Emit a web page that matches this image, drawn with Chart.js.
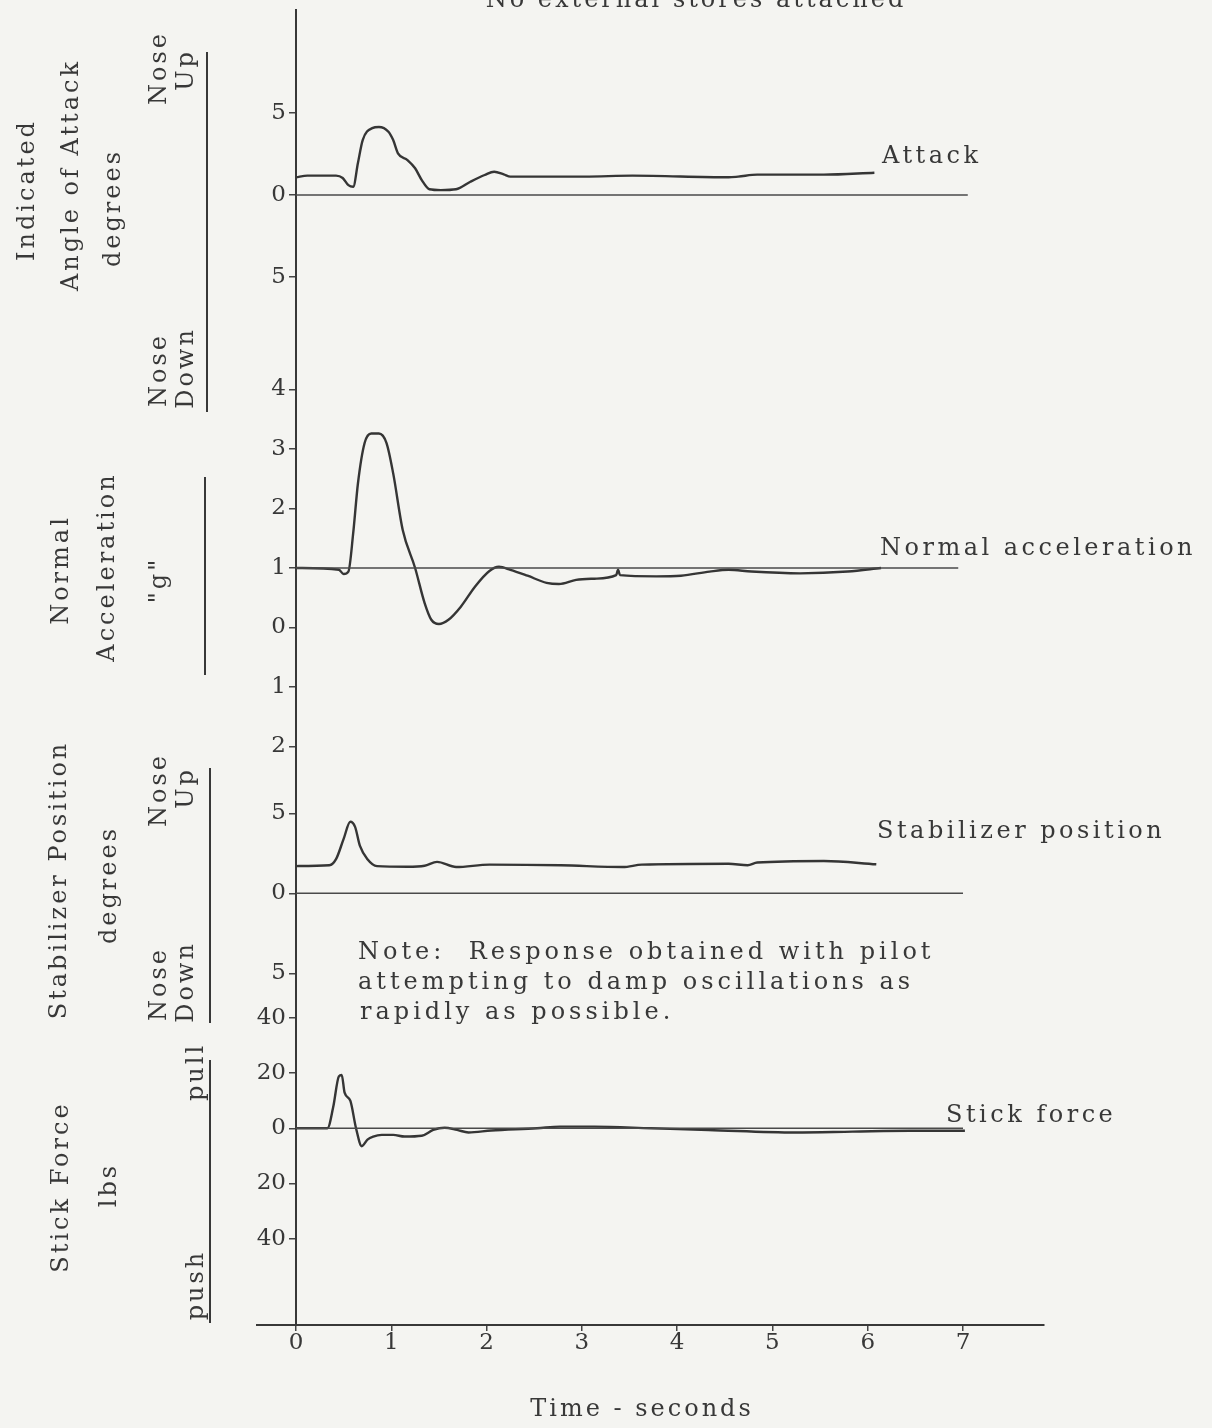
<!DOCTYPE html>
<html><head><meta charset="utf-8">
<script src="https://cdn.jsdelivr.net/npm/chart.js@4.4.1/dist/chart.umd.min.js"></script>
<style>html,body{margin:0;padding:0;background:#f4f4f1;} canvas{display:block}</style>
</head><body>
<canvas id="c" width="1212" height="1428"></canvas>
<script>
// ---- tick labels ----
const timeTicks = [0, 1, 2, 3, 4, 5, 6, 7];
const attackTicks = [5, 0, -5];
const accelTicks = [4, 3, 2, 1, 0, -1, -2];
const stabTicks = [5, 0, -5];
const stickTicks = [40, 20, 0, -20, -40];

// ---- series (time in seconds) ----
const attackTime = [0, 0.12, 0.42, 0.49, 0.55, 0.6, 0.65, 0.70, 0.80, 0.87, 0.97, 1.02, 1.07, 1.17, 1.25, 1.32, 1.40, 1.52, 1.68, 1.83, 1.98, 2.08, 2.18, 2.25, 3.03, 3.53, 4.54, 4.64, 4.84, 5.54, 6.07];
const attackDeg  = [1.08, 1.18, 1.18, 1.04, 0.6, 0.5, 1.95, 3.35, 4.08, 4.15, 3.86, 3.35, 2.54, 2.13, 1.63, 0.91, 0.35, 0.3, 0.35, 0.81, 1.22, 1.42, 1.26, 1.12, 1.12, 1.18, 1.08, 1.12, 1.24, 1.24, 1.36];

const accelTime = [0, 0.45, 0.50, 0.55, 0.60, 0.65, 0.72, 0.79, 0.87, 0.95, 1.02, 1.12, 1.25, 1.35, 1.42, 1.50, 1.60, 1.73, 1.88, 2.03, 2.13, 2.25, 2.43, 2.63, 2.76, 2.94, 3.13, 3.36, 3.38, 3.40, 3.78, 4.04, 4.34, 4.54, 4.78, 5.29, 5.79, 6.14];
const accelG    = [1.0, 0.97, 0.9, 0.94, 1.58, 2.42, 3.10, 3.26, 3.26, 3.10, 2.59, 1.64, 1.0, 0.41, 0.13, 0.06, 0.13, 0.35, 0.69, 0.95, 1.02, 0.97, 0.87, 0.75, 0.73, 0.80, 0.82, 0.88, 0.97, 0.88, 0.86, 0.87, 0.94, 0.97, 0.94, 0.91, 0.94, 1.0];

const stabTime = [0, 0.35, 0.42, 0.50, 0.57, 0.62, 0.67, 0.75, 0.85, 1.17, 1.35, 1.48, 1.68, 2.03, 2.78, 3.43, 3.63, 4.54, 4.74, 4.84, 5.54, 6.09];
const stabDeg  = [1.70, 1.75, 2.13, 3.40, 4.47, 4.15, 2.98, 2.13, 1.70, 1.66, 1.72, 1.96, 1.64, 1.79, 1.75, 1.64, 1.79, 1.85, 1.75, 1.92, 2.02, 1.81];

const stickTime = [0, 0.33, 0.39, 0.45, 0.48, 0.51, 0.57, 0.63, 0.69, 0.75, 0.81, 0.90, 1.02, 1.14, 1.32, 1.44, 1.56, 1.69, 1.81, 2.05, 2.53, 2.77, 3.13, 3.73, 4.33, 5.24, 5.84, 6.44, 7.02];
const stickLbs  = [0, 0, 7.6, 18.8, 19.3, 12.9, 10, 0, -6.5, -4.1, -3.0, -2.4, -2.4, -3.0, -2.7, -0.6, 0.2, -0.6, -1.5, -0.8, 0, 0.6, 0.6, 0, -0.6, -1.5, -1.2, -0.9, -0.9];

// reference (trim) lines
const attackRefTime = [0, 7.05]; const attackRefDeg = [0, 0];
const accelRefTime = [0, 6.95];  const accelRefG = [1, 1];
const stabRefTime = [0, 7.0];    const stabRefDeg = [0, 0];
const stickRefTime = [0, 7.0];   const stickRefLbs = [0, 0];

const INK = '#383838';
const FONT = '"DejaVu Serif", serif';
const pts = (t, v) => t.map((x, i) => ({x: x, y: v[i]}));

function trace(t, v, axis) {
  return {data: pts(t, v), yAxisID: axis, borderColor: '#353535', borderWidth: 2.4,
          pointRadius: 0, tension: 0.35, cubicInterpolationMode: 'monotone', fill: false};
}
function ref(t, v, axis) {
  return {data: pts(t, v), yAxisID: axis, borderColor: '#4a4a4a', borderWidth: 1.6,
          pointRadius: 0, tension: 0, fill: false};
}

function yScale(min, max, ticks, weight) {
  return {
    type: 'linear', position: 'left', stack: 'panels', stackWeight: weight, offset: false,
    min: min, max: max,
    afterBuildTicks: s => { s.ticks = ticks.map(v => ({value: v})); },
    afterFit: s => { s.width = 296; s.paddingTop = 0; s.paddingBottom = 0; },
    ticks: {autoSkip: false, color: INK, font: {family: FONT, size: 23}, padding: 3,
            callback: v => String(Math.abs(v))},
    grid: {drawOnChartArea: false, drawTicks: true, tickLength: 7, color: '#444', lineWidth: 1.5},
    border: {display: true, color: INK, width: 2}
  };
}

const deco = {
  id: 'deco',
  beforeDraw(chart) {
    const c = chart.ctx;
    c.save(); c.fillStyle = '#f4f4f1'; c.fillRect(0, 0, chart.width, chart.height); c.restore();
  },
  afterDraw(chart) {
    const c = chart.ctx;
    const a = chart.chartArea;
    c.save();
    c.fillStyle = INK; c.strokeStyle = INK;
    c.font = '24px ' + FONT;
    c.letterSpacing = '3px';
    const rot = (s, x, y) => {
      c.save(); c.translate(x, y); c.rotate(-Math.PI / 2);
      c.textAlign = 'center'; c.textBaseline = 'middle'; c.fillText(s, 0, 0); c.restore();
    };
    const vline = (x, y0, y1) => { c.beginPath(); c.lineWidth = 2; c.moveTo(x, y0); c.lineTo(x, y1); c.stroke(); };
    // panel 1
    rot('Indicated', 28, 190); rot('Angle of Attack', 72, 175); rot('degrees', 114, 208);
    rot('Nose', 160, 68); rot('Up', 187, 70); rot('Nose', 160, 370); rot('Down', 187, 368);
    vline(207, 52, 412);
    // panel 2
    rot('Normal', 62, 570); rot('Acceleration', 108, 567); rot('"g"', 160, 580);
    vline(205, 477, 675);
    // panel 3
    rot('Stabilizer Position', 60, 880); rot('degrees', 110, 885);
    rot('Nose', 160, 790); rot('Up', 187, 788); rot('Nose', 160, 984); rot('Down', 187, 982);
    vline(210, 768, 1023);
    // panel 4
    rot('Stick Force', 62, 1187); rot('lbs', 110, 1185); rot('pull', 197, 1072); rot('push', 197, 1285);
    vline(210, 1060, 1323);
    // series labels
    c.letterSpacing = '3.5px';
    c.textAlign = 'left'; c.textBaseline = 'middle';
    c.fillText('Attack', 882, 157);
    c.fillText('Normal acceleration', 880, 549);
    c.fillText('Stabilizer position', 877, 832);
    c.fillText('Stick force', 946, 1116);
    // note
    c.letterSpacing = '4px';
    c.fillText('Note:  Response obtained with pilot', 358, 953);
    c.fillText('attempting to damp oscillations as', 358, 983);
    c.fillText('rapidly as possible.', 360, 1013);
    // title (cut at top)
    c.letterSpacing = '3px';
    c.textAlign = 'center'; c.textBaseline = 'alphabetic';
    c.fillText('No external stores attached', 696, 7);
    // x axis title
    c.fillText('Time - seconds', 642, 1416);
    // left extension of time axis
    c.beginPath(); c.lineWidth = 2; c.moveTo(256, a.bottom); c.lineTo(a.left, a.bottom); c.stroke();
    c.restore();
  }
};

new Chart(document.getElementById('c'), {
  type: 'line',
  data: {datasets: [
    ref(attackRefTime, attackRefDeg, 'yAtk'), trace(attackTime, attackDeg, 'yAtk'),
    ref(accelRefTime, accelRefG, 'yAcc'), trace(accelTime, accelG, 'yAcc'),
    ref(stabRefTime, stabRefDeg, 'yStab'), trace(stabTime, stabDeg, 'yStab'),
    ref(stickRefTime, stickRefLbs, 'yStick'), trace(stickTime, stickLbs, 'yStick')
  ]},
  options: {
    responsive: false, animation: false, devicePixelRatio: 1,
    layout: {padding: {top: 10, right: 168, left: 0, bottom: 0}},
    plugins: {legend: {display: false}, tooltip: {enabled: false}},
    scales: {
      x: {type: 'linear', min: 0, max: 7.85,
          afterBuildTicks: s => { s.ticks = timeTicks.map(v => ({value: v})); },
          afterFit: s => { s.height = 103; s.paddingLeft = 0; s.paddingRight = 0; },
          ticks: {autoSkip: false, color: INK, font: {family: FONT, size: 23}, padding: -2, maxRotation: 0},
          grid: {drawOnChartArea: false, drawTicks: true, tickLength: 6, color: '#444', lineWidth: 1.5},
          border: {display: true, color: INK, width: 2}},
      // stacked panels are laid out bottom-first
      yStick: yScale(-71.3, 46.5, stickTicks, 325),
      yStab: yScale(-6.67, 7.08, stabTicks, 220),
      yAcc: yScale(-2.563, 5.0, accelTicks, 450),
      yAtk: yScale(-8.23, 11.28, attackTicks, 320)
    }
  },
  plugins: [deco]
});
</script>
</body></html>
